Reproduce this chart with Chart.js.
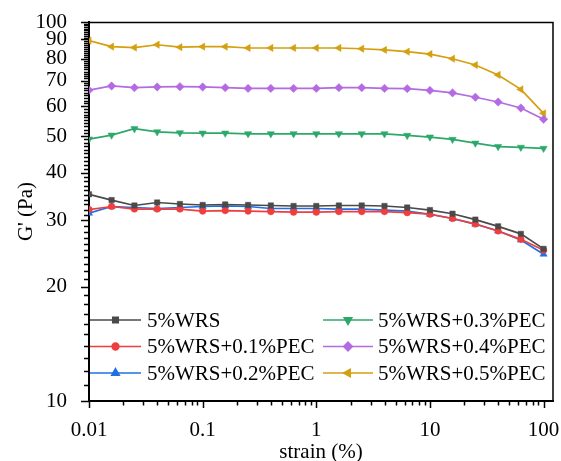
<!DOCTYPE html>
<html><head><meta charset="utf-8">
<script src="https://cdn.jsdelivr.net/npm/chart.js@4.4.1/dist/chart.umd.min.js"></script>
<style>html,body{margin:0;padding:0;background:#fff;}#wrap{width:561px;height:461px;}</style>
</head><body><div id="wrap"><canvas id="c" width="561" height="461"></canvas></div>
<script>
// ---- data ----
const strain = [0.01, 0.0158, 0.0251, 0.0398, 0.0631, 0.1, 0.158, 0.251, 0.398, 0.631, 1, 1.58, 2.51, 3.98, 6.31, 10, 15.8, 25.1, 39.8, 63.1, 100];
const wrs    = [35.1, 33.9, 32.8, 33.4, 33.1, 32.9, 33.0, 32.9, 32.8, 32.7, 32.7, 32.8, 32.8, 32.7, 32.4, 31.9, 31.2, 30.1, 28.9, 27.6, 25.2];
const pec01  = [32.0, 32.6, 32.1, 32.1, 32.1, 31.7, 31.8, 31.7, 31.6, 31.5, 31.5, 31.6, 31.6, 31.6, 31.4, 31.1, 30.3, 29.3, 28.1, 26.7, 25.0];
const pec02  = [31.3, 32.6, 32.4, 32.2, 32.4, 32.6, 32.7, 32.6, 32.2, 32.2, 32.2, 32.1, 32.1, 31.9, 31.7, 31.1, 30.3, 29.3, 28.1, 26.6, 24.4];
const pec03  = [49.1, 50.3, 52.3, 51.3, 51.0, 50.9, 50.9, 50.7, 50.7, 50.7, 50.7, 50.7, 50.7, 50.7, 50.2, 49.7, 49.0, 47.9, 46.9, 46.7, 46.4];
const pec04  = [66.1, 67.8, 67.1, 67.4, 67.5, 67.4, 67.1, 66.8, 66.8, 66.8, 66.8, 67.1, 67.1, 66.8, 66.7, 66.0, 65.0, 63.3, 61.5, 59.3, 55.4];
const pec05  = [89.3, 86.1, 85.6, 87.1, 85.8, 86.1, 86.1, 85.4, 85.4, 85.4, 85.4, 85.4, 85.0, 84.4, 83.5, 82.3, 80.0, 77.0, 72.5, 66.4, 57.4];
const seriesNames = ['5%WRS', '5%WRS+0.1%PEC', '5%WRS+0.2%PEC', '5%WRS+0.3%PEC', '5%WRS+0.4%PEC', '5%WRS+0.5%PEC'];
const xTickLabels = [0.01, 0.1, 1, 10, 100];
const yTickLabels = [10, 20, 30, 40, 50, 60, 70, 80, 90, 100];
const xTitle = 'strain (%)';
const yTitle = "G' (Pa)";

// ---- styles ----
const FONT = 'Liberation Serif, "Times New Roman", serif';
const styles = [
  {color:'#4a4a4a', pointStyle:'rect', radius:3.8, rotation:0},
  {color:'#f03e3e', pointStyle:'circle', radius:3.3, rotation:0},
  {color:'#1f70e6', pointStyle:'triangle', radius:4.2, rotation:0},
  {color:'#2ca86a', pointStyle:'triangle', radius:4.2, rotation:180},
  {color:'#b36ae3', pointStyle:'rectRot', radius:4.2, rotation:0},
  {color:'#d4a010', pointStyle:'triangle', radius:4.2, rotation:-90}
];
const allSeries = [wrs, pec01, pec02, pec03, pec04, pec05];
const datasets = allSeries.map((arr, i) => ({
  label: seriesNames[i],
  data: arr.map((v, k) => ({x: strain[k], y: v})),
  borderColor: styles[i].color,
  backgroundColor: styles[i].color,
  pointBackgroundColor: styles[i].color,
  pointBorderColor: styles[i].color,
  pointStyle: styles[i].pointStyle,
  pointRotation: styles[i].rotation,
  pointRadius: styles[i].radius,
  pointBorderWidth: 0.5,
  borderWidth: 1.7,
  tension: 0,
  fill: false
}));

const X_MAX = 121;

const tickPlugin = {
  id: 'ticksFrame',
  afterDraw(chart) {
    const ctx = chart.ctx, a = chart.chartArea;
    const xs = chart.scales.x, ys = chart.scales.y;
    ctx.save();
    ctx.strokeStyle = '#000';
    // frame top/right
    ctx.lineWidth = 1.5;
    ctx.beginPath();
    ctx.moveTo(a.left, a.top + 0.5); ctx.lineTo(a.right, a.top + 0.5); ctx.lineTo(a.right, a.bottom);
    ctx.stroke();
    // y ticks (major every 10, minor every 1)
    ctx.lineWidth = 1.5;
    for (let v = 10; v <= 100; v++) {
      const y = Math.round(ys.getPixelForValue(v)) + 0.5;
      const len = (v % 10 === 0) ? 8 : 5;
      ctx.beginPath(); ctx.moveTo(a.left - len, y); ctx.lineTo(a.left, y); ctx.stroke();
    }
    // x ticks
    for (const d of xTickLabels) {
      for (let m = 1; m <= 9; m++) {
        const v = d * m;
        if (v > X_MAX) continue;
        const x = Math.round(xs.getPixelForValue(v)) + 0.5;
        const len = (m === 1) ? 7 : 4.5;
        ctx.beginPath(); ctx.moveTo(x, a.bottom); ctx.lineTo(x, a.bottom + len); ctx.stroke();
      }
    }
    ctx.restore();
  }
};

const legendPlugin = {
  id: 'legendGrid',
  afterDatasetsDraw(chart) {
    const ctx = chart.ctx;
    const cols = [{x0: 90, x1: 141, tx: 147}, {x0: 323, x1: 373, tx: 378}];
    const rows = [320, 346.5, 373];
    ctx.save();
    ctx.font = '21px ' + FONT;
    ctx.textBaseline = 'middle';
    ctx.textAlign = 'left';
    seriesNames.forEach((name, i) => {
      const c = cols[Math.floor(i / 3)], y = rows[i % 3];
      const s = styles[i];
      ctx.strokeStyle = s.color; ctx.fillStyle = s.color; ctx.lineWidth = 1.7;
      ctx.beginPath(); ctx.moveTo(c.x0, y); ctx.lineTo(c.x1, y); ctx.stroke();
      Chart.helpers.drawPoint(ctx, {pointStyle: s.pointStyle, rotation: s.rotation, radius: s.radius, borderWidth: 0.5}, (c.x0 + c.x1) / 2, y);
      ctx.fillStyle = '#000';
      ctx.fillText(name, c.tx, y + 1);
    });
    ctx.restore();
  }
};

new Chart(document.getElementById('c'), {
  type: 'line',
  data: {datasets},
  plugins: [tickPlugin, legendPlugin],
  options: {
    responsive: false,
    devicePixelRatio: 1,
    animation: false,
    layout: {padding: {top: 22, right: 8, left: 0, bottom: 0}},
    plugins: {legend: {display: false}, tooltip: {enabled: false}},
    scales: {
      x: {
        type: 'logarithmic', position: 'bottom', min: 0.01, max: X_MAX,
        grid: {display: false},
        border: {display: true, color: '#000', width: 2},
        afterBuildTicks: s => { s.ticks = xTickLabels.map(v => ({value: v})); },
        afterFit: s => { s.height = 60; s.paddingLeft = 0; s.paddingRight = 0; },
        ticks: {color: '#000', font: {family: FONT, size: 21}, padding: 9, maxRotation: 0, autoSkip: false,
                callback: v => String(v)},
        title: {display: true, text: xTitle, color: '#000', font: {family: FONT, size: 21, lineHeight: 0.8}, padding: {top: 0, bottom: 0}}
      },
      y: {
        type: 'logarithmic', position: 'left', min: 10, max: 100,
        grid: {display: false},
        border: {display: true, color: '#000', width: 2},
        afterBuildTicks: s => { s.ticks = yTickLabels.map(v => ({value: v})); },
        afterFit: s => { s.width = 89; s.paddingTop = 0; s.paddingBottom = 0; },
        ticks: {color: '#000', font: {family: FONT, size: 21}, padding: 14, autoSkip: false,
                callback: v => String(v)},
        title: {display: true, text: yTitle, color: '#000', font: {family: FONT, size: 21, lineHeight: 1}, padding: {top: 16, bottom: 0}}
      }
    }
  }
});
</script>
</body></html>
